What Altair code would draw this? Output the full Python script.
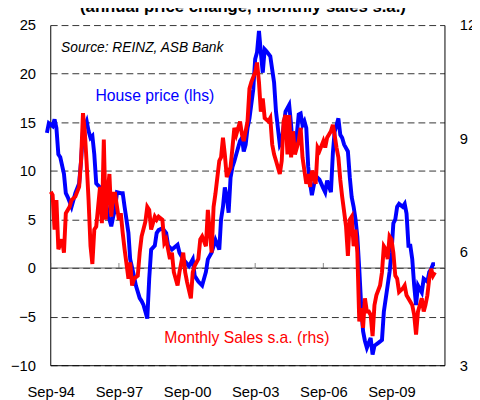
import altair as alt
import pandas as pd

FONT = "Liberation Sans"

# House price, annual % change (lhs)
hp_dates = ["1994-07", "1994-08", "1994-10", "1994-11", "1994-12", "1995-01", "1995-02", "1995-04",
            "1995-05", "1995-06", "1995-08", "1995-09", "1995-10", "1995-12", "1996-01", "1996-02",
            "1996-04", "1996-05", "1996-06", "1996-07", "1996-08", "1996-09", "1996-10", "1996-11",
            "1996-12", "1997-02", "1997-03", "1997-05", "1997-06", "1997-07", "1997-08", "1997-10",
            "1997-11", "1997-12", "1998-02", "1998-03", "1998-05", "1998-06", "1998-08", "1998-09",
            "1998-10", "1998-11", "1998-12", "1999-01", "1999-02", "1999-04", "1999-05", "1999-06",
            "1999-08", "1999-10", "1999-11", "2000-01", "2000-04", "2000-05", "2000-07", "2000-10",
            "2000-12", "2001-01", "2001-03", "2001-05", "2001-07", "2001-08", "2001-10", "2001-12",
            "2002-02", "2002-03", "2002-04", "2002-05", "2002-06", "2002-07", "2002-08", "2002-09",
            "2002-10", "2002-11", "2003-01", "2003-02", "2003-03", "2003-04", "2003-05", "2003-06",
            "2003-08", "2003-09", "2003-10", "2003-11", "2003-12", "2004-01", "2004-02", "2004-03",
            "2004-05", "2004-07", "2004-08", "2004-10", "2004-11", "2005-01", "2005-03", "2005-04",
            "2005-05", "2005-07", "2005-08", "2005-09", "2005-10", "2005-11", "2005-12", "2006-01",
            "2006-02", "2006-03", "2006-05", "2006-07", "2006-09", "2006-10", "2006-11", "2007-01",
            "2007-02", "2007-03", "2007-04", "2007-05", "2007-06", "2007-07", "2007-08", "2007-10",
            "2007-11", "2007-12", "2008-01", "2008-02", "2008-03", "2008-04", "2008-05", "2008-06",
            "2008-07", "2008-08", "2008-10", "2008-11", "2008-12", "2009-02", "2009-04", "2009-05",
            "2009-07", "2009-08", "2009-09", "2009-10", "2009-11", "2009-12", "2010-01", "2010-03",
            "2010-04", "2010-05", "2010-06", "2010-07", "2010-08", "2010-09", "2010-10", "2010-11",
            "2011-01", "2011-02", "2011-04", "2011-05", "2011-06", "2011-07", "2011-08"]
hp_values = [13.9, 14.9, 14.6, 15.3, 14.4, 11.7, 11.4, 9.7,
             7.7, 7.3, 6.3, 7.0, 7.7, 8.7, 11.0, 14.1,
             15.1, 14.1, 13.4, 13.6, 11.7, 8.7, 8.5, 8.3,
             8.0, 7.3, 5.7, 4.3, 5.3, 6.0, 7.8, 7.7,
             7.7, 6.3, 3.6, 0.9, -0.8, -1.8, -3.1, -3.4,
             -3.8, -4.5, -5.2, -1.1, 1.9, 2.3, 3.6, 3.9,
             4.1, 3.6, 2.3, 1.9, 2.4, 1.6, 0.9, 0.2,
             0.9, -0.8, -1.4, -1.8, -0.4, 0.9, 1.6, 2.9,
             1.9, 5.0, 6.3, 8.3, 7.3, 5.7, 9.3, 10.4,
             11.0, 11.7, 13.1, 13.4, 12.0, 12.7, 14.4, 15.4,
             18.4, 21.5, 22.2, 24.4, 22.2, 20.1, 22.5, 22.3,
             21.8, 19.1, 16.1, 12.7, 13.1, 16.1, 16.8, 14.7,
             12.0, 13.7, 15.8, 15.9, 14.7, 15.1, 14.4, 10.4,
             8.7, 7.5, 9.5, 9.1, 8.2, 7.8, 9.0, 7.8,
             11.8, 14.0, 14.7, 15.4, 13.7, 13.4, 12.7, 12.0,
             9.3, 7.3, 6.3, 5.0, 3.2, -0.1, -3.8, -6.5,
             -7.5, -8.2, -7.2, -8.9, -8.0, -7.7, -7.4, -4.5,
             -1.8, -0.4, 1.6, 4.6, 5.0, 6.3, 6.6, 6.3,
             6.6, 5.6, 2.3, 2.3, 0.9, -1.8, -3.8, -1.8,
             -2.5, -1.1, -1.4, -0.4, -0.1, 0.4, 0.4]

# Monthly sales s.a., thousands (rhs)
sales_dates = ["1994-09", "1994-10", "1994-11", "1994-12", "1995-01", "1995-03", "1995-04", "1995-05",
               "1995-07", "1995-08", "1995-10", "1995-12", "1996-01", "1996-02", "1996-03", "1996-04",
               "1996-05", "1996-06", "1996-07", "1996-08", "1996-09", "1996-11", "1996-12", "1997-01",
               "1997-02", "1997-03", "1997-04", "1997-05", "1997-06", "1997-07", "1997-09", "1997-10",
               "1997-11", "1997-12", "1998-02", "1998-03", "1998-04", "1998-05", "1998-07", "1998-08",
               "1998-09", "1998-11", "1998-12", "1999-01", "1999-02", "1999-04", "1999-05", "1999-06",
               "1999-08", "1999-09", "1999-10", "1999-12", "2000-01", "2000-02", "2000-04", "2000-05",
               "2000-07", "2000-08", "2000-09", "2000-11", "2000-12", "2001-01", "2001-03", "2001-04",
               "2001-05", "2001-07", "2001-08", "2001-10", "2001-11", "2001-12", "2002-02", "2002-03",
               "2002-04", "2002-05", "2002-06", "2002-08", "2002-09", "2002-10", "2002-11", "2003-01",
               "2003-02", "2003-03", "2003-05", "2003-06", "2003-07", "2003-09", "2003-10", "2003-11",
               "2003-12", "2004-01", "2004-02", "2004-04", "2004-05", "2004-06", "2004-07", "2004-08",
               "2004-10", "2004-11", "2004-12", "2005-01", "2005-02", "2005-03", "2005-04", "2005-05",
               "2005-06", "2005-08", "2005-09", "2005-10", "2005-12", "2006-01", "2006-02", "2006-03",
               "2006-05", "2006-06", "2006-07", "2006-09", "2006-10", "2006-11", "2007-01", "2007-02",
               "2007-03", "2007-04", "2007-05", "2007-06", "2007-07", "2007-09", "2007-10", "2007-11",
               "2007-12", "2008-01", "2008-02", "2008-03", "2008-04", "2008-05", "2008-06", "2008-07",
               "2008-08", "2008-09", "2008-10", "2008-11", "2008-12", "2009-01", "2009-03", "2009-04",
               "2009-05", "2009-06", "2009-07", "2009-08", "2009-09", "2009-10", "2009-11", "2009-12",
               "2010-01", "2010-03", "2010-04", "2010-05", "2010-07", "2010-08", "2010-09", "2010-10",
               "2010-11", "2011-01", "2011-02", "2011-03", "2011-04", "2011-05", "2011-06", "2011-07",
               "2011-08"]
sales_values = [7.59, 7.50, 6.59, 7.37, 6.07, 6.33, 5.98, 7.02,
                7.19, 7.37, 7.46, 7.72, 8.41, 9.67, 9.19, 8.32,
                7.37, 6.15, 5.68, 6.59, 6.67, 7.72, 6.76, 8.97,
                6.85, 7.54, 8.06, 6.93, 7.54, 7.54, 6.85, 7.02,
                6.50, 6.07, 5.29, 5.72, 5.11, 5.29, 5.37, 5.98,
                6.41, 6.80, 7.19, 7.11, 6.59, 6.93, 6.85, 6.93,
                6.85, 6.24, 6.33, 5.81, 5.98, 5.46, 5.11, 5.46,
                5.98, 5.46, 5.20, 4.77, 5.46, 5.63, 5.81, 6.33,
                6.41, 6.15, 7.11, 5.98, 7.19, 7.54, 8.41, 8.50,
                9.02, 8.58, 7.98, 8.24, 8.76, 9.28, 9.10, 9.45,
                9.10, 8.93, 9.45, 10.32, 10.49, 10.75, 11.01, 10.49,
                9.71, 10.06, 9.54, 9.45, 9.54, 8.84, 8.58, 8.41,
                8.06, 8.41, 9.45, 9.62, 8.58, 9.62, 8.50, 9.19,
                8.58, 8.93, 9.28, 8.50, 7.80, 8.06, 7.72, 8.15,
                7.80, 8.76, 8.67, 8.93, 8.76, 9.02, 9.19, 9.36,
                9.10, 8.76, 8.50, 7.90, 7.46, 6.67, 5.89, 6.85,
                6.93, 6.15, 6.59, 5.98, 4.16, 4.51, 3.99, 4.77,
                4.42, 4.42, 4.33, 3.77, 4.59, 4.85, 5.11, 5.46,
                6.15, 6.07, 5.81, 6.41, 6.33, 5.98, 5.37, 5.29,
                4.94, 5.03, 5.11, 4.85, 4.68, 4.59, 4.33, 3.81,
                4.42, 4.77, 4.42, 4.59, 4.85, 5.29, 5.55, 5.37,
                5.46]

label_years = [1994, 1997, 2000, 2003, 2006, 2009]
tick_dates = ["1994-09", "1997-09", "2000-09", "2003-09", "2006-09", "2009-09"]
left_ticks = [-10, -5, 0, 5, 10, 15, 20, 25]
right_ticks = [3, 6, 9, 12]

title_text = "(annual price change, monthly sales s.a.)"
source_text = "Source: REINZ, ASB Bank"
hp_label = "House price (lhs)"
sales_label = "Monthly Sales s.a. (rhs)"

hp = pd.DataFrame({"date": hp_dates, "value": hp_values})
sales = pd.DataFrame({"date": sales_dates, "value": sales_values})
ticks_df = pd.DataFrame({"date": tick_dates, "value": [0] * len(tick_dates)})
zero_df = pd.DataFrame({"value": [0]})

xscale = alt.Scale(type="utc", domain=[alt.DateTime(year=1994, month=8, date=24, utc=True),
                                      alt.DateTime(year=2012, month=1, date=1, utc=True)])
x_enc = alt.X(
    "date:T", scale=xscale,
    axis=alt.Axis(title=None,
                  values=[alt.DateTime(year=y, month=9, date=1, utc=True) for y in label_years],
                  labelExpr="utcFormat(datum.value, '%b-%y')",
                  ticks=False, grid=False, domain=True, domainColor="black", domainWidth=1,
                  labelFont=FONT, labelFontSize=15, labelColor="black", labelPadding=20,
                  labelFlush=False, labelOverlap=False))

y_left = alt.Y(
    "value:Q", scale=alt.Scale(domain=[-10, 25], nice=False, zero=False),
    axis=alt.Axis(title=None, values=left_ticks, grid=True, gridDash=[7, 4], gridColor="#333333",
                  gridWidth=1, ticks=False, domain=True, domainColor="black", domainWidth=1,
                  labelFont=FONT, labelFontSize=15, labelColor="black", labelPadding=15))

y_right = alt.Y(
    "value:Q", scale=alt.Scale(domain=[3, 12], nice=False, zero=False),
    axis=alt.Axis(title=None, orient="right", values=right_ticks, grid=False, ticks=False,
                  domain=True, domainColor="black", domainWidth=1,
                  labelFont=FONT, labelFontSize=15, labelColor="black", labelPadding=15))

zero_rule = alt.Chart(zero_df).mark_rule(color="#555555", strokeWidth=1).encode(y=y_left)
zero_ticks = alt.Chart(ticks_df).mark_tick(orient="vertical", size=5, thickness=1,
                                           color="#555555", yOffset=-2.5).encode(x=x_enc, y=y_left)
blue = alt.Chart(hp).mark_line(color="#0000FF", strokeWidth=4).encode(x=x_enc, y=y_left)
red = alt.Chart(sales).mark_line(color="#FF0000", strokeWidth=4).encode(x=x_enc, y=y_right)

one = alt.Data(values=[{}])
t_title = alt.Chart(one).mark_text(text=title_text, font=FONT, fontSize=17, fontWeight="bold",
                                   align="center", baseline="alphabetic", color="black").encode(
    x=alt.value(196), y=alt.value(-13.5))
t_source = alt.Chart(one).mark_text(text=source_text, font=FONT, fontSize=14, fontStyle="italic",
                                    align="left", baseline="middle", color="black").encode(
    x=alt.value(11), y=alt.value(23))
t_hp = alt.Chart(one).mark_text(text=hp_label, font=FONT, fontSize=16, align="left",
                                baseline="middle", color="#0000FF").encode(
    x=alt.value(46), y=alt.value(72))
t_sales = alt.Chart(one).mark_text(text=sales_label, font=FONT, fontSize=16, align="left",
                                   baseline="middle", color="#FF0000").encode(
    x=alt.value(116), y=alt.value(318))

left = alt.layer(zero_rule, zero_ticks, blue)
chart = alt.layer(left, red, t_title, t_source, t_hp, t_sales).resolve_scale(
    y="independent"
).properties(
    width=401, height=346,
    autosize=alt.AutoSizeParams(type="none"),
    padding={"left": 43, "top": 14, "right": 28, "bottom": 32},
    background="white",
).configure_view(stroke=None)

chart.save("out.html", embed_options={"renderer": "svg", "actions": False})
